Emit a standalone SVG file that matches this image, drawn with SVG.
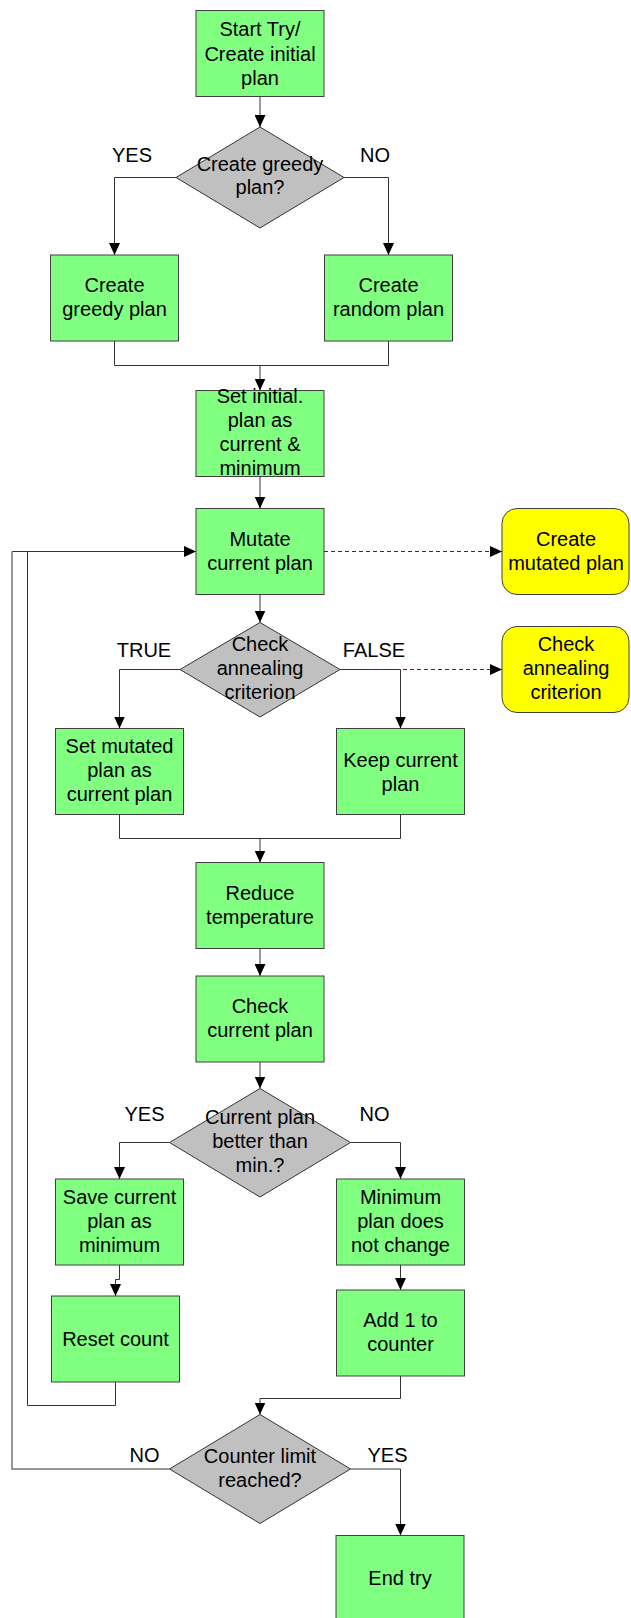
<svg xmlns="http://www.w3.org/2000/svg" width="631" height="1618" viewBox="0 0 631 1618">
<style>
.box{fill:#80FF80;stroke:#404040;stroke-width:1}
.dec{fill:#C0C0C0;stroke:#333333;stroke-width:1}
.ext{fill:#FFFF00;stroke:#404040;stroke-width:1}
.t{font-family:"Liberation Sans",Arial,sans-serif;font-size:20px;fill:#000;text-anchor:middle}
.c{fill:none;stroke:#333333;stroke-width:1}
.d{fill:none;stroke:#333333;stroke-width:1;stroke-dasharray:4,3}
.loop{fill:none;stroke:#777777;stroke-width:1.5}
</style>
<defs>
<marker id="ah" markerUnits="userSpaceOnUse" markerWidth="12" markerHeight="11" refX="12" refY="5.5" orient="auto">
<path d="M0,0 L12,5.5 L0,11 z" fill="#000"/>
</marker>
</defs>
<g id="connectors">
<path class="c" d="M260 97 V127" marker-end="url(#ah)"/>
<path class="c" d="M176 177.5 H114.5 V255" marker-end="url(#ah)"/>
<path class="c" d="M344 177.5 H388.5 V255" marker-end="url(#ah)"/>
<path class="c" d="M114.5 341 V365.5 H388.5 V341"/>
<path class="c" d="M260 365.5 V390.5" marker-end="url(#ah)"/>
<path class="c" d="M260 476.5 V508.5" marker-end="url(#ah)"/>
<path class="d" d="M324 551.5 H502" marker-end="url(#ah)"/>
<path class="c" d="M260 594.5 V622.5" marker-end="url(#ah)"/>
<path class="c" d="M180 669.5 H119.5 V728.5" marker-end="url(#ah)"/>
<path class="c" d="M340 669.5 H400.5 V728.5" marker-end="url(#ah)"/>
<path class="d" d="M340 669.5 H502" marker-end="url(#ah)"/>
<path class="c" d="M119.5 814.5 V838.5 H400.5 V814.5"/>
<path class="c" d="M260 838.5 V862.5" marker-end="url(#ah)"/>
<path class="c" d="M260 948.5 V976" marker-end="url(#ah)"/>
<path class="c" d="M260 1062 V1088.5" marker-end="url(#ah)"/>
<path class="c" d="M169.5 1142.5 H119.5 V1179" marker-end="url(#ah)"/>
<path class="c" d="M350.5 1142.5 H400.5 V1179" marker-end="url(#ah)"/>
<path class="c" d="M119.5 1265 V1279.5 H115.5 V1296" marker-end="url(#ah)"/>
<path class="c" d="M115.5 1382 V1405.5 H27.5 V551.5"/>
<path class="c" d="M12 551.5 H196" marker-end="url(#ah)"/>
<path class="c" d="M400.5 1265 V1290" marker-end="url(#ah)"/>
<path class="c" d="M400.5 1376 V1398.5 H260 V1414.5" marker-end="url(#ah)"/>
<path class="loop" d="M169.5 1469 H12 V551.5"/>
<path class="c" d="M350.5 1469 H400.5 V1535.5" marker-end="url(#ah)"/>
</g>
<g id="labels">
<text class="t" x="132" y="162">YES</text>
<text class="t" x="375" y="162">NO</text>
<text class="t" x="144" y="657">TRUE</text>
<text class="t" x="374" y="657">FALSE</text>
<text class="t" x="144.5" y="1121">YES</text>
<text class="t" x="374.5" y="1121">NO</text>
<text class="t" x="144.5" y="1462">NO</text>
<text class="t" x="387.5" y="1462">YES</text>
</g>
<g id="start"><rect class="box" x="196" y="10.5" width="128" height="86"/>
<text class="t" x="260" y="36">Start Try/</text><text class="t" x="260" y="60.5">Create initial</text><text class="t" x="260" y="84.5">plan</text></g>
<g id="d-greedy"><polygon class="dec" points="260,127 344,177.5 260,228 176,177.5"/>
<text class="t" x="260" y="170.5">Create greedy</text><text class="t" x="260" y="194">plan?</text></g>
<g id="greedy"><rect class="box" x="50.5" y="255" width="128" height="86"/>
<text class="t" x="114.5" y="291.5">Create</text><text class="t" x="114.5" y="315.5">greedy plan</text></g>
<g id="random"><rect class="box" x="324.5" y="255" width="128" height="86"/>
<text class="t" x="388.5" y="291.5">Create</text><text class="t" x="388.5" y="315.5">random plan</text></g>
<g id="set-initial"><rect class="box" x="196" y="390.5" width="128" height="86"/>
<text class="t" x="260" y="402.5">Set initial.</text><text class="t" x="260" y="426.5">plan as</text><text class="t" x="260" y="451">current &amp;</text><text class="t" x="260" y="475">minimum</text></g>
<g id="mutate"><rect class="box" x="196" y="508.5" width="128" height="86"/>
<text class="t" x="260" y="545.5">Mutate</text><text class="t" x="260" y="569.5">current plan</text></g>
<g id="create-mutated"><rect class="ext" x="502" y="508.5" width="127" height="86" rx="15" ry="15"/>
<text class="t" x="566" y="545.5">Create</text><text class="t" x="566" y="569.5">mutated plan</text></g>
<g id="d-annealing"><polygon class="dec" points="260,622.5 340,669.5 260,717 180,669.5"/>
<text class="t" x="260" y="651">Check</text><text class="t" x="260" y="675">annealing</text><text class="t" x="260" y="699">criterion</text></g>
<g id="check-annealing"><rect class="ext" x="502" y="626.5" width="127" height="86" rx="15" ry="15"/>
<text class="t" x="566" y="651">Check</text><text class="t" x="566" y="675">annealing</text><text class="t" x="566" y="699">criterion</text></g>
<g id="set-mutated"><rect class="box" x="55.5" y="728.5" width="128" height="86"/>
<text class="t" x="119.5" y="752.5">Set mutated</text><text class="t" x="119.5" y="776.5">plan as</text><text class="t" x="119.5" y="800.5">current plan</text></g>
<g id="keep"><rect class="box" x="336.5" y="728.5" width="128" height="86"/>
<text class="t" x="400.5" y="766.5">Keep current</text><text class="t" x="400.5" y="790.5">plan</text></g>
<g id="reduce"><rect class="box" x="196" y="862.5" width="128" height="86"/>
<text class="t" x="260" y="900">Reduce</text><text class="t" x="260" y="924">temperature</text></g>
<g id="check-current"><rect class="box" x="196" y="976" width="128" height="86"/>
<text class="t" x="260" y="1012.5">Check</text><text class="t" x="260" y="1036.5">current plan</text></g>
<g id="d-better"><polygon class="dec" points="260,1088.5 350.5,1142.5 260,1197 169.5,1142.5"/>
<text class="t" x="260" y="1124">Current plan</text><text class="t" x="260" y="1148">better than</text><text class="t" x="260" y="1172">min.?</text></g>
<g id="save"><rect class="box" x="55.5" y="1179" width="128" height="86"/>
<text class="t" x="119.5" y="1203.5">Save current</text><text class="t" x="119.5" y="1227.5">plan as</text><text class="t" x="119.5" y="1251.5">minimum</text></g>
<g id="minimum"><rect class="box" x="336.5" y="1179" width="128" height="86"/>
<text class="t" x="400.5" y="1203.5">Minimum</text><text class="t" x="400.5" y="1227.5">plan does</text><text class="t" x="400.5" y="1251.5">not change</text></g>
<g id="reset"><rect class="box" x="51.5" y="1296" width="128" height="86"/>
<text class="t" x="115.5" y="1346">Reset count</text></g>
<g id="add1"><rect class="box" x="336.5" y="1290" width="128" height="86"/>
<text class="t" x="400.5" y="1326.5">Add 1 to</text><text class="t" x="400.5" y="1350.5">counter</text></g>
<g id="d-counter"><polygon class="dec" points="260,1414.5 350.5,1469 260,1523.5 169.5,1469"/>
<text class="t" x="260" y="1462.5">Counter limit</text><text class="t" x="260" y="1486.5">reached?</text></g>
<g id="end"><rect class="box" x="336" y="1535.5" width="128" height="86"/>
<text class="t" x="400" y="1585">End try</text></g>
</svg>
